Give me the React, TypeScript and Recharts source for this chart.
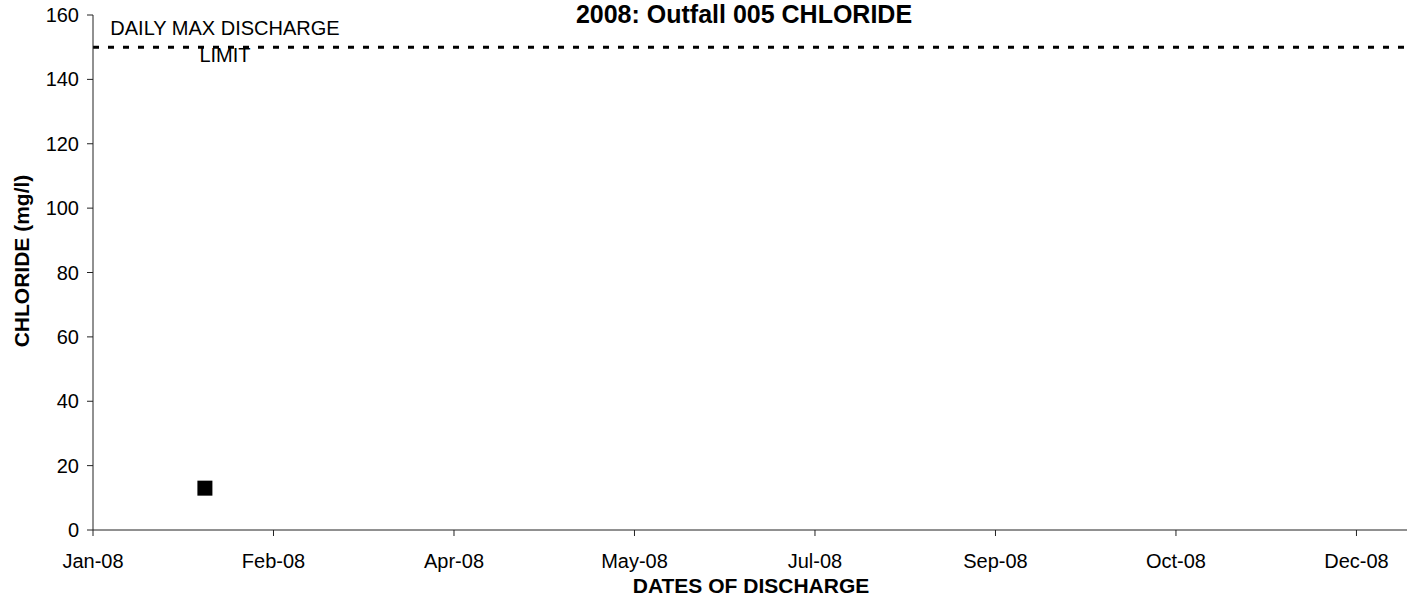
import {
  ScatterChart,
  Scatter,
  XAxis,
  YAxis,
  ReferenceLine,
} from "recharts";

const FONT = "'Liberation Sans', Arial, sans-serif";

// sample dates and measured chloride (mg/l)
const sampleDates = ["2008-02-01"];
const chlorideValues = [13];

// x axis: days since Jan 1 2008, ticks every 50 days
const xTickDays = [0, 50, 100, 150, 200, 250, 300, 350];
const xTickLabels = [
  "Jan-08",
  "Feb-08",
  "Apr-08",
  "May-08",
  "Jul-08",
  "Sep-08",
  "Oct-08",
  "Dec-08",
];
const yTicks = [0, 20, 40, 60, 80, 100, 120, 140, 160];

const dailyMaxLimit = 150;

const START = Date.UTC(2008, 0, 1);
const toDay = (iso: string) => {
  const [y, m, d] = iso.split("-").map(Number);
  return Math.round((Date.UTC(y, m - 1, d) - START) / 86400000);
};

const data = sampleDates.map((d, i) => ({
  day: toDay(d),
  chloride: chlorideValues[i],
}));

const SquareMarker = (props: any) => {
  const { cx, cy } = props;
  return <rect x={cx - 7.5} y={cy - 7.5} width={15} height={15} fill="#000" />;
};

const LimitLabel = (props: any) => {
  const { viewBox } = props;
  const x = viewBox.x + 132;
  return (
    <g>
      <text x={x} y={viewBox.y - 12} textAnchor="middle" fontSize={20} fontFamily={FONT} fill="#000">
        DAILY MAX DISCHARGE
      </text>
      <text x={x} y={viewBox.y + 15} textAnchor="middle" fontSize={20} fontFamily={FONT} fill="#000">
        LIMIT
      </text>
    </g>
  );
};

export default function App() {
  return (
    <div style={{ position: "absolute", left: 0, top: 0, width: 1413, height: 602, background: "#fff" }}>
      <ScatterChart
        width={1413}
        height={602}
        margin={{ top: 15, right: 6, bottom: 22, left: 33 }}
      >
        <XAxis
          type="number"
          dataKey="day"
          domain={[0, 364]}
          ticks={xTickDays}
          tickFormatter={(v: number) => xTickLabels[xTickDays.indexOf(v)]}
          height={50}
          stroke="#222"
          tickSize={6}
          tickMargin={18}
          tick={{ fill: "#000", fontSize: 20, fontFamily: FONT }}
          allowDataOverflow
        />
        <YAxis
          type="number"
          dataKey="chloride"
          domain={[0, 160]}
          ticks={yTicks}
          width={60}
          stroke="#222"
          tickSize={6}
          tickMargin={8}
          tick={{ fill: "#000", fontSize: 20, fontFamily: FONT }}
        />
        <ReferenceLine
          y={dailyMaxLimit}
          stroke="#000"
          strokeWidth={3}
          strokeDasharray="6 9"
          label={<LimitLabel />}
        />
        <Scatter data={data} fill="#000" shape={<SquareMarker />} isAnimationActive={false} />
        <text x={744} y={23} textAnchor="middle" fontSize={25} fontWeight="bold" fontFamily={FONT} fill="#000">
          2008: Outfall 005 CHLORIDE
        </text>
        <text x={751} y={593} textAnchor="middle" fontSize={21} fontWeight="bold" fontFamily={FONT} fill="#000">
          DATES OF DISCHARGE
        </text>
        <text
          x={29}
          y={261}
          textAnchor="middle"
          fontSize={21}
          fontWeight="bold"
          fontFamily={FONT}
          fill="#000"
          transform="rotate(-90, 29, 261)"
        >
          CHLORIDE (mg/l)
        </text>
      </ScatterChart>
    </div>
  );
}
